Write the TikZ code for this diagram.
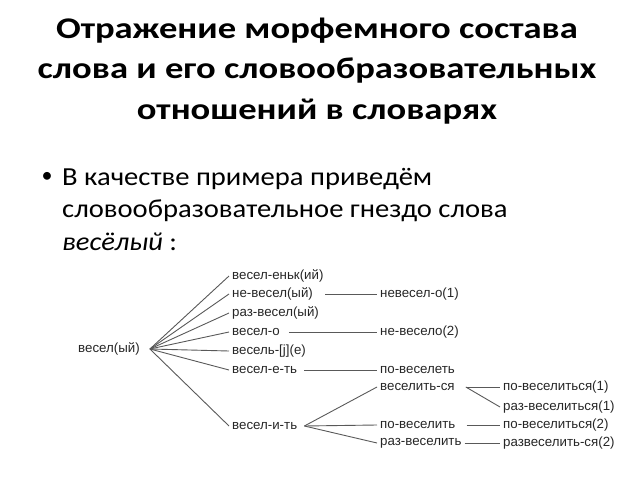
\documentclass[tikz,border=0pt]{standalone}
\usepackage{fontspec}
\setmainfont{Carlito}
\newfontfamily\diagfont{Liberation Sans}
\usetikzlibrary{positioning}

\begin{document}
\begin{tikzpicture}[
    x=1pt, y=-1pt,
    title/.style={font=\bfseries\fontsize{30}{40.5}\selectfont, align=center, inner sep=0pt, xscale=1.22, transform shape},
    bullet/.style={font=\fontsize{26}{32.5}\selectfont, align=left, inner sep=0pt, xscale=1.1, transform shape},
    word/.style={font=\diagfont\fontsize{13.3}{14}\selectfont, text=black!85, anchor=west, inner xsep=3pt, inner ysep=1pt},
    link/.style={draw=black!65, line width=0.9pt}
  ]
  \useasboundingbox (0,0) rectangle (638,479);

  % Title and intro text
  \node[title, anchor=base] (heading) at (317,119) {Отражение морфемного состава\\слова и его словообразовательных\\отношений в словарях};
  \node[font=\fontsize{22}{22}\selectfont, inner sep=0pt] (dot) at (47,177) {•};
  \node[bullet, anchor=base west] (intro) at (62,250) {В качестве примера приведём\\словообразовательное гнездо слова\\\textit{весёлый} :};

  % Root word
  \node[word] (root) at (75,349) {весел(ый)};
  \coordinate (hubA) at ([xshift=7pt]root.east);

  % First level
  \node[word] (a1) at (229,276) {весел-еньк(ий)};
  \node[word] (a2) at (229,294) {не-весел(ый)};
  \node[word] (a3) at (229,313) {раз-весел(ый)};
  \node[word] (a4) at (229,332) {весел-о};
  \node[word] (a5) at (229,351) {весель-[j](е)};
  \node[word] (a6) at (229,370) {весел-е-ть};
  \node[word] (a7) at (229,426) {весел-и-ть};
  \coordinate (hubB) at ([xshift=4pt]a7.east);

  % Second level
  \node[word] (b2) at (377,294) {невесел-о(1)};
  \node[word] (b4) at (377,332) {не-весело(2)};
  \node[word] (b6) at (377,370) {по-веселеть};
  \node[word] (b7) at (377,387) {веселить-ся};
  \node[word] (b8) at (377,425) {по-веселить};
  \node[word] (b9) at (377,443) {раз-веселить};
  \coordinate (hubC) at ([xshift=8pt]b7.east);

  % Third level
  \node[word] (c1) at (500,387) {по-веселиться(1)};
  \node[word] (c2) at (500,407) {раз-веселиться(1)};
  \node[word] (c3) at (500,425) {по-веселиться(2)};
  \node[word] (c4) at (500,443) {развеселить-ся(2)};

  % Links from the root
  \foreach \n in {a1,a2,a3,a4,a5,a6,a7}
    \draw[link] (hubA) -- (\n.west);

  % Links to the second level
  \draw[link, shorten <=9pt] (a2) -- (b2);
  \draw[link, shorten <=6pt] (a4) -- (b4);
  \draw[link, shorten <=4pt] (a6) -- (b6);
  \draw[link] (hubB) -- (b7.west);
  \draw[link] (hubB) -- (b8.west);
  \draw[link] (hubB) -- (b9.west);

  % Links to the third level
  \draw[link] (hubC) -- (c1.west);
  \draw[link] (hubC) -- (c2.west);
  \draw[link, shorten <=8pt] (b8) -- (c3);
  \draw[link] (b9) -- (c4);

\end{tikzpicture}
\end{document}
